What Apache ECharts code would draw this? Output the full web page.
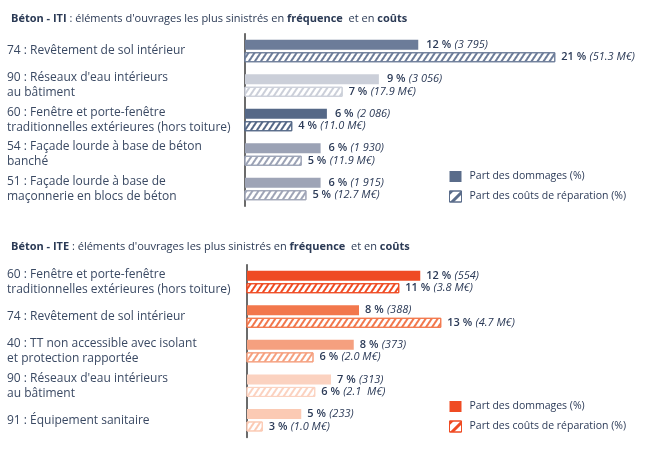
<!DOCTYPE html>
<html>
<head>
<meta charset="utf-8">
<script src="https://cdn.jsdelivr.net/npm/echarts@6/dist/echarts.min.js"></script>
<style>
html,body{margin:0;padding:0;background:#fff;}
#chart{width:650px;height:454px;}
</style>
</head>
<body>
<div id="chart"></div>
<script>
// ---- Data: Béton - ITI ----
var categoriesITI = [
  '74 : Revêtement de sol intérieur',
  "90 : Réseaux d'eau intérieurs\nau bâtiment",
  '60 : Fenêtre et porte-fenêtre\ntraditionnelles extérieures (hors toiture)',
  '54 : Façade lourde à base de béton\nbanché',
  '51 : Façade lourde à base de\nmaçonnerie en blocs de béton'
];
var dommagesITI = [12.0, 9.5, 6.2, 5.8, 5.8];
var coutsITI = [20.7, 7.2, 4.0, 4.6, 4.9];
var pctDomITI = ['12 %', '9 %', '6 %', '6 %', '6 %'];
var nbDomITI = ['3 795', '3 056', '2 086', '1 930', '1 915'];
var pctCoutITI = ['21 %', '7 %', '4 %', '5 %', '5 %'];
var montantITI = ['51.3 M€', '17.9 M€', '11.0 M€', '11.9 M€', '12.7 M€'];

// ---- Data: Béton - ITE ----
var categoriesITE = [
  '60 : Fenêtre et porte-fenêtre\ntraditionnelles extérieures (hors toiture)',
  '74 : Revêtement de sol intérieur',
  '40 : TT non accessible avec isolant\net protection rapportée',
  "90 : Réseaux d'eau intérieurs\nau bâtiment",
  '91 : Équipement sanitaire'
];
var dommagesITE = [11.9, 8.4, 8.1, 6.8, 5.1];
var coutsITE = [10.7, 13.1, 5.8, 5.9, 2.9];
var pctDomITE = ['12 %', '8 %', '8 %', '7 %', '5 %'];
var nbDomITE = ['554', '388', '373', '313', '233'];
var pctCoutITE = ['11 %', '13 %', '6 %', '6 %', '3 %'];
var montantITE = ['3.8 M€', '4.7 M€', '2.0 M€', '2.1  M€', '1.0 M€'];

var colorsITI = ['#6c7c99', '#cbcfd9', '#556887', '#9ba2b5', '#9ea4b6'];
var colorsITE = ['#ef4b23', '#f2774c', '#f5a07f', '#fbd2c0', '#fbcab4'];

var FONT = 'Open Sans';
var TXT = '#2b3a57';

function decal(c) {
  return { symbol: 'rect', symbolSize: 1, color: c, dashArrayX: [1, 0], dashArrayY: [2, 2.5], rotation: -Math.PI / 3.2 };
}
function solidData(vals, cols) {
  return vals.map(function (v, i) { return { value: v, itemStyle: { color: cols[i] } }; });
}
function hatchData(vals, cols) {
  return vals.map(function (v, i) {
    return { value: v, itemStyle: { color: '#ffffff', borderColor: cols[i], borderWidth: 1, decal: decal(cols[i]) } };
  });
}
var rich = {
  p: { fontFamily: FONT, fontSize: 11, fontWeight: 600, color: TXT },
  q: { fontFamily: FONT, fontSize: 11, fontStyle: 'italic', color: TXT }
};
function lbl(pcts, extras, dist) {
  return {
    show: true, position: 'right', distance: dist,
    formatter: function (p) { return '{p|' + pcts[p.dataIndex] + '} {q|(' + extras[p.dataIndex] + ')}'; },
    rich: rich
  };
}
function titleText(kind) {
  return '{b|Béton - ' + kind + '}{n| : éléments d\'ouvrages les plus sinistrés en }{b|fréquence}{n|  et en }{b|coûts}';
}
var titleRich = {
  b: { fontFamily: FONT, fontSize: 11, fontWeight: 'bold', color: '#2b3a55' },
  n: { fontFamily: FONT, fontSize: 11, fontWeight: 'normal', color: '#2b3a55' }
};
var yAxisBase = {
  type: 'category', inverse: true,
  axisLine: { show: true, lineStyle: { color: '#3a3a3a', width: 1.5 } },
  axisTick: { show: false },
  axisLabel: { align: 'left', fontFamily: FONT, fontSize: 12, lineHeight: 15, color: '#3a4963' }
};
var legendNames = { 'ITI dommages': 'Part des dommages (%)', 'ITI couts': 'Part des coûts de réparation (%)',
                    'ITE dommages': 'Part des dommages (%)', 'ITE couts': 'Part des coûts de réparation (%)' };
function legend(top, nameA, nameB, c) {
  return {
    orient: 'vertical', left: 444, top: top, itemWidth: 12, itemHeight: 11, itemGap: 8.5,
    selectedMode: false,
    formatter: function (n) { return legendNames[n]; },
    textStyle: { fontFamily: FONT, fontSize: 10.5, color: TXT, padding: [0, 0, 0, 3] },
    data: [
      { name: nameA, icon: 'rect', itemStyle: { color: c, borderWidth: 0 } },
      { name: nameB, icon: 'rect', itemStyle: { color: '#ffffff', borderColor: c, borderWidth: 1, decal: { symbol: 'rect', symbolSize: 1, color: c, dashArrayX: [1, 0], dashArrayY: [3, 5], rotation: -Math.PI / 4 } } }
    ]
  };
}

var chart = echarts.init(document.getElementById('chart'), null, { renderer: 'canvas' });
chart.setOption({
  animation: false,
  backgroundColor: '#ffffff',
  title: [
    { text: titleText('ITI'), left: 6, top: 8, textStyle: { fontWeight: 'normal', rich: titleRich } },
    { text: titleText('ITE'), left: 6, top: 236, textStyle: { fontWeight: 'normal', rich: titleRich } }
  ],
  legend: [
    legend(166, 'ITI dommages', 'ITI couts', '#5a6c8a'),
    legend(396, 'ITE dommages', 'ITE couts', '#ef4b23')
  ],
  grid: [
    { left: 245, top: 33.75, width: 378, height: 172.5 },
    { left: 247, top: 264.7, width: 385, height: 172.8 }
  ],
  xAxis: [
    { type: 'value', gridIndex: 0, min: 1, max: 25, show: false },
    { type: 'value', gridIndex: 1, min: 2, max: 24, show: false }
  ],
  yAxis: [
    Object.assign({}, yAxisBase, { gridIndex: 0, data: categoriesITI, axisLabel: Object.assign({}, yAxisBase.axisLabel, { margin: 238 }) }),
    Object.assign({}, yAxisBase, { gridIndex: 1, data: categoriesITE, axisLabel: Object.assign({}, yAxisBase.axisLabel, { margin: 240 }) })
  ],
  series: [
    { name: 'ITI dommages', type: 'bar', xAxisIndex: 0, yAxisIndex: 0, barWidth: 10, barGap: '25%',
      itemStyle: { color: '#5a6c8a' }, data: solidData(dommagesITI, colorsITI), label: lbl(pctDomITI, nbDomITI, 8) },
    { name: 'ITI couts', type: 'bar', xAxisIndex: 0, yAxisIndex: 0, barWidth: 10, barGap: '25%',
      itemStyle: { color: '#ffffff', borderColor: '#5a6c8a', borderWidth: 1 }, data: hatchData(coutsITI, colorsITI), label: lbl(pctCoutITI, montantITI, 6) },
    { name: 'ITE dommages', type: 'bar', xAxisIndex: 1, yAxisIndex: 1, barWidth: 10, barGap: '25%',
      itemStyle: { color: '#ef4b23' }, data: solidData(dommagesITE, colorsITE), label: lbl(pctDomITE, nbDomITE, 6) },
    { name: 'ITE couts', type: 'bar', xAxisIndex: 1, yAxisIndex: 1, barWidth: 10, barGap: '25%',
      itemStyle: { color: '#ffffff', borderColor: '#ef4b23', borderWidth: 1 }, data: hatchData(coutsITE, colorsITE), label: lbl(pctCoutITE, montantITE, 6) }
  ]
});
</script>
</body>
</html>
